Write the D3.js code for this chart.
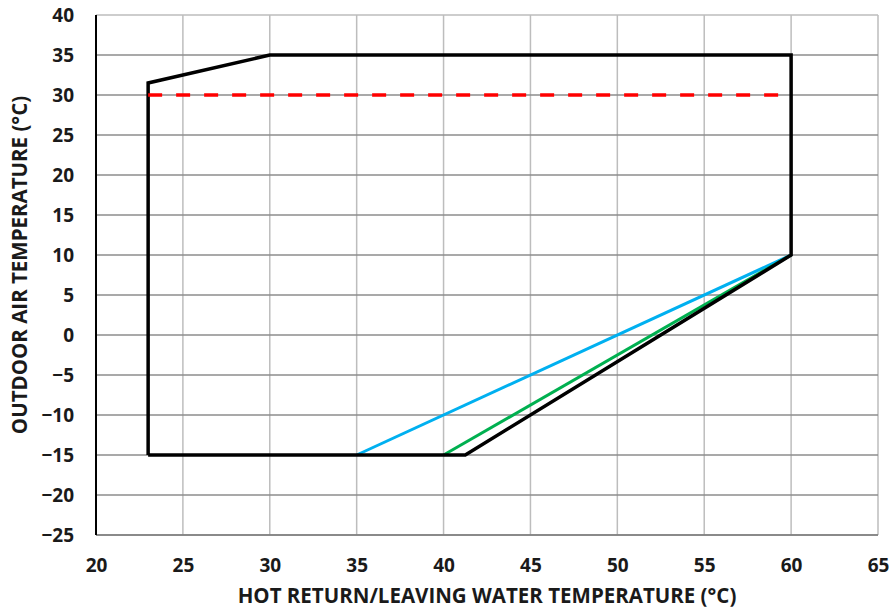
<!DOCTYPE html>
<html>
<head>
<meta charset="utf-8">
<script src="https://cdn.jsdelivr.net/npm/d3@7"></script>
<style>
  body { margin: 0; background: #fff; }
  text { font-family: "Open Sans", "Noto Sans", sans-serif; font-weight: bold; fill: #1a1a1a; }
</style>
</head>
<body>
<div id="chart"></div>
<script>
// Operating envelope (water temp °C, outdoor air °C)
const envelopeX = [23, 23, 30, 60, 60, 41.25, 23];
const envelopeY = [-15, 31.5, 35, 35, 10, -15, -15];
const blueX = [35, 60];
const blueY = [-15, 10];
const greenX = [40, 60];
const greenY = [-15, 10];
const redX = [23, 60];
const redY = [30, 30];
const xTicks = [20, 25, 30, 35, 40, 45, 50, 55, 60, 65];
const yTicks = [-25, -20, -15, -10, -5, 0, 5, 10, 15, 20, 25, 30, 35, 40];

const margin = { top: 15, right: 14, bottom: 73, left: 96 };
const width = 892 - margin.left - margin.right;
const height = 608 - margin.top - margin.bottom;

const svg = d3.select("#chart")
  .append("svg")
  .attr("width", 892)
  .attr("height", 608)
  .append("g")
  .attr("transform", `translate(${margin.left}, ${margin.top})`);

const xScale = d3.scaleLinear().domain([20, 65]).range([0, width]);
const yScale = d3.scaleLinear().domain([-25, 40]).range([height, 0]);

// Gridlines
svg.selectAll(".vgrid")
  .data(xTicks)
  .enter()
  .append("line")
  .attr("x1", d => xScale(d)).attr("x2", d => xScale(d))
  .attr("y1", 0).attr("y2", height)
  .attr("stroke", "#bdbdbd")
  .attr("stroke-width", 1.5);
svg.selectAll(".hgrid")
  .data(yTicks)
  .enter()
  .append("line")
  .attr("x1", 0).attr("x2", width)
  .attr("y1", d => yScale(d)).attr("y2", d => yScale(d))
  .attr("stroke", d => d === 40 ? "#bdbdbd" : "#8c8c8c")
  .attr("stroke-width", 1.3);

// Axes lines
svg.append("line")
  .attr("x1", 0).attr("x2", width)
  .attr("y1", height).attr("y2", height)
  .attr("stroke", "#808080").attr("stroke-width", 1.5);
svg.append("line")
  .attr("x1", 0).attr("x2", 0)
  .attr("y1", 0).attr("y2", height)
  .attr("stroke", "#000").attr("stroke-width", 2);

// Tick labels
const xAxis = d3.axisBottom(xScale).tickValues(xTicks).tickSize(0).tickPadding(24);
const yAxis = d3.axisLeft(yScale).tickValues(yTicks).tickSize(0).tickPadding(22);

svg.append("g")
  .attr("transform", `translate(0, ${height})`)
  .call(xAxis)
  .call(g => g.select(".domain").remove())
  .selectAll("text")
  .style("font-size", "19px");
svg.append("g")
  .call(yAxis)
  .call(g => g.select(".domain").remove())
  .selectAll("text")
  .style("font-size", "19px");

// Series
const line = d3.line()
  .x(d => xScale(d[0]))
  .y(d => yScale(d[1]));

const zip = (xs, ys) => xs.map((x, i) => [x, ys[i]]);

svg.append("path")
  .datum(zip(blueX, blueY))
  .attr("d", line)
  .attr("fill", "none")
  .attr("stroke", "#00b0f0")
  .attr("stroke-width", 3);
svg.append("path")
  .datum(zip(greenX, greenY))
  .attr("d", line)
  .attr("fill", "none")
  .attr("stroke", "#00b050")
  .attr("stroke-width", 3);
svg.append("path")
  .datum(zip(envelopeX, envelopeY))
  .attr("d", line)
  .attr("fill", "none")
  .attr("stroke", "#000")
  .attr("stroke-width", 3.5)
  .attr("stroke-linejoin", "miter");
svg.append("path")
  .datum(zip(redX, redY))
  .attr("d", line)
  .attr("fill", "none")
  .attr("stroke", "#ff0000")
  .attr("stroke-width", 3.5)
  .attr("stroke-dasharray", "14,14");

// Axis titles
svg.append("text")
  .attr("x", 487 - margin.left)
  .attr("y", height + 68)
  .attr("text-anchor", "middle")
  .style("font-size", "20.5px")
  .text("HOT RETURN/LEAVING WATER TEMPERATURE (°C)");
svg.append("text")
  .attr("transform", `translate(${-69}, ${265 - margin.top}) rotate(-90)`)
  .attr("text-anchor", "middle")
  .style("font-size", "20.5px")
  .text("OUTDOOR AIR TEMPERATURE (°C)");
</script>
</body>
</html>
